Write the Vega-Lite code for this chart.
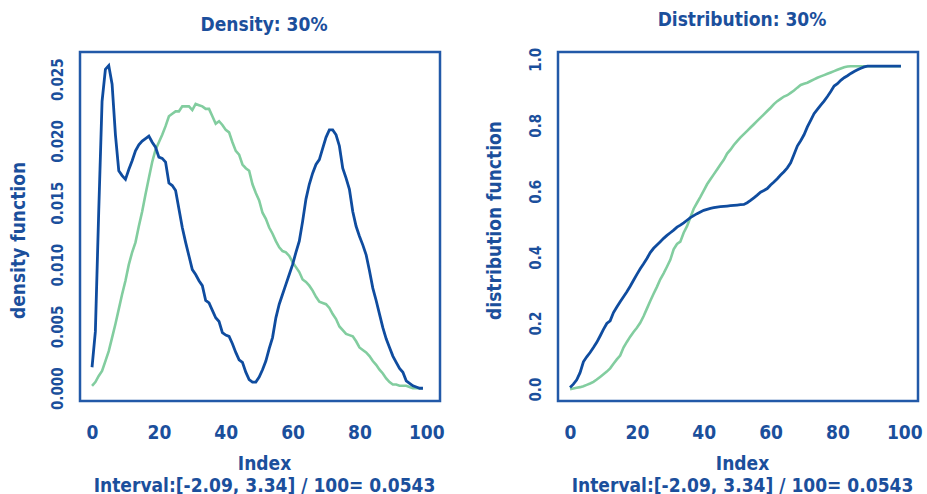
{
  "$schema": "https://vega.github.io/schema/vega-lite/v6.json",
  "autosize": {"type": "none"},
  "padding": {"left": 80, "top": 52, "right": 847, "bottom": 442},
  "background": "white",
  "datasets": {
    "d": [
      {"index":0,"db":0.0017,"dg":0.0002,"cb":0.005,"cg":0.000},
      {"index":1,"db":0.0046,"dg":0.0005,"cb":0.015,"cg":0.002},
      {"index":2,"db":0.0143,"dg":0.0010,"cb":0.028,"cg":0.004},
      {"index":3,"db":0.0232,"dg":0.0014,"cb":0.050,"cg":0.006},
      {"index":4,"db":0.0258,"dg":0.0022,"cb":0.083,"cg":0.009},
      {"index":5,"db":0.0261,"dg":0.0030,"cb":0.098,"cg":0.013},
      {"index":6,"db":0.0246,"dg":0.0041,"cb":0.111,"cg":0.017},
      {"index":7,"db":0.0205,"dg":0.0052,"cb":0.126,"cg":0.022},
      {"index":8,"db":0.0176,"dg":0.0064,"cb":0.142,"cg":0.029},
      {"index":9,"db":0.0172,"dg":0.0076,"cb":0.161,"cg":0.037},
      {"index":10,"db":0.0169,"dg":0.0087,"cb":0.181,"cg":0.045},
      {"index":11,"db":0.0177,"dg":0.0100,"cb":0.199,"cg":0.053},
      {"index":12,"db":0.0184,"dg":0.0110,"cb":0.207,"cg":0.063},
      {"index":13,"db":0.0192,"dg":0.0118,"cb":0.232,"cg":0.077},
      {"index":14,"db":0.0197,"dg":0.0131,"cb":0.249,"cg":0.090},
      {"index":15,"db":0.0200,"dg":0.0143,"cb":0.265,"cg":0.102},
      {"index":16,"db":0.0202,"dg":0.0157,"cb":0.280,"cg":0.126},
      {"index":17,"db":0.0204,"dg":0.0170,"cb":0.295,"cg":0.143},
      {"index":18,"db":0.0199,"dg":0.0183,"cb":0.312,"cg":0.159},
      {"index":19,"db":0.0195,"dg":0.0193,"cb":0.330,"cg":0.173},
      {"index":20,"db":0.0187,"dg":0.0199,"cb":0.348,"cg":0.186},
      {"index":21,"db":0.0186,"dg":0.0205,"cb":0.365,"cg":0.201},
      {"index":22,"db":0.0183,"dg":0.0212,"cb":0.380,"cg":0.221},
      {"index":23,"db":0.0166,"dg":0.0220,"cb":0.396,"cg":0.244},
      {"index":24,"db":0.0164,"dg":0.0222,"cb":0.414,"cg":0.267},
      {"index":25,"db":0.0160,"dg":0.0224,"cb":0.427,"cg":0.289},
      {"index":26,"db":0.0145,"dg":0.0224,"cb":0.437,"cg":0.310},
      {"index":27,"db":0.0130,"dg":0.0228,"cb":0.447,"cg":0.333},
      {"index":28,"db":0.0118,"dg":0.0228,"cb":0.457,"cg":0.351},
      {"index":29,"db":0.0107,"dg":0.0228,"cb":0.466,"cg":0.371},
      {"index":30,"db":0.0096,"dg":0.0225,"cb":0.474,"cg":0.392},
      {"index":31,"db":0.0092,"dg":0.0230,"cb":0.482,"cg":0.424},
      {"index":32,"db":0.0087,"dg":0.0229,"cb":0.491,"cg":0.440},
      {"index":33,"db":0.0083,"dg":0.0228,"cb":0.497,"cg":0.447},
      {"index":34,"db":0.0071,"dg":0.0226,"cb":0.504,"cg":0.474},
      {"index":35,"db":0.0069,"dg":0.0226,"cb":0.512,"cg":0.494},
      {"index":36,"db":0.0063,"dg":0.0220,"cb":0.520,"cg":0.520},
      {"index":37,"db":0.0057,"dg":0.0214,"cb":0.526,"cg":0.547},
      {"index":38,"db":0.0054,"dg":0.0216,"cb":0.532,"cg":0.565},
      {"index":39,"db":0.0045,"dg":0.0213,"cb":0.537,"cg":0.583},
      {"index":40,"db":0.0043,"dg":0.0209,"cb":0.542,"cg":0.602},
      {"index":41,"db":0.0042,"dg":0.0207,"cb":0.545,"cg":0.621},
      {"index":42,"db":0.0036,"dg":0.0199,"cb":0.548,"cg":0.636},
      {"index":43,"db":0.0029,"dg":0.0192,"cb":0.550,"cg":0.651},
      {"index":44,"db":0.0023,"dg":0.0189,"cb":0.552,"cg":0.666},
      {"index":45,"db":0.0021,"dg":0.0181,"cb":0.553,"cg":0.681},
      {"index":46,"db":0.0013,"dg":0.0178,"cb":0.554,"cg":0.695},
      {"index":47,"db":0.0007,"dg":0.0176,"cb":0.555,"cg":0.714},
      {"index":48,"db":0.0005,"dg":0.0165,"cb":0.556,"cg":0.726},
      {"index":49,"db":0.0005,"dg":0.0158,"cb":0.557,"cg":0.740},
      {"index":50,"db":0.0009,"dg":0.0152,"cb":0.558,"cg":0.752},
      {"index":51,"db":0.0015,"dg":0.0142,"cb":0.559,"cg":0.763},
      {"index":52,"db":0.0022,"dg":0.0137,"cb":0.560,"cg":0.773},
      {"index":53,"db":0.0032,"dg":0.0130,"cb":0.565,"cg":0.783},
      {"index":54,"db":0.0041,"dg":0.0125,"cb":0.572,"cg":0.793},
      {"index":55,"db":0.0057,"dg":0.0119,"cb":0.580,"cg":0.803},
      {"index":56,"db":0.0068,"dg":0.0114,"cb":0.588,"cg":0.813},
      {"index":57,"db":0.0076,"dg":0.0111,"cb":0.597,"cg":0.823},
      {"index":58,"db":0.0084,"dg":0.0110,"cb":0.602,"cg":0.833},
      {"index":59,"db":0.0092,"dg":0.0107,"cb":0.608,"cg":0.843},
      {"index":60,"db":0.0100,"dg":0.0102,"cb":0.619,"cg":0.853},
      {"index":61,"db":0.0110,"dg":0.0098,"cb":0.628,"cg":0.864},
      {"index":62,"db":0.0119,"dg":0.0094,"cb":0.638,"cg":0.873},
      {"index":63,"db":0.0135,"dg":0.0088,"cb":0.649,"cg":0.880},
      {"index":64,"db":0.0153,"dg":0.0086,"cb":0.659,"cg":0.887},
      {"index":65,"db":0.0165,"dg":0.0083,"cb":0.671,"cg":0.891},
      {"index":66,"db":0.0174,"dg":0.0079,"cb":0.686,"cg":0.898},
      {"index":67,"db":0.0181,"dg":0.0074,"cb":0.711,"cg":0.905},
      {"index":68,"db":0.0185,"dg":0.0070,"cb":0.737,"cg":0.914},
      {"index":69,"db":0.0194,"dg":0.0069,"cb":0.753,"cg":0.922},
      {"index":70,"db":0.0203,"dg":0.0068,"cb":0.771,"cg":0.926},
      {"index":71,"db":0.0209,"dg":0.0065,"cb":0.795,"cg":0.929},
      {"index":72,"db":0.0209,"dg":0.0060,"cb":0.815,"cg":0.934},
      {"index":73,"db":0.0205,"dg":0.0056,"cb":0.835,"cg":0.939},
      {"index":74,"db":0.0196,"dg":0.0050,"cb":0.848,"cg":0.944},
      {"index":75,"db":0.0178,"dg":0.0047,"cb":0.861,"cg":0.948},
      {"index":76,"db":0.0170,"dg":0.0044,"cb":0.873,"cg":0.952},
      {"index":77,"db":0.0161,"dg":0.0043,"cb":0.887,"cg":0.956},
      {"index":78,"db":0.0143,"dg":0.0042,"cb":0.902,"cg":0.960},
      {"index":79,"db":0.0131,"dg":0.0038,"cb":0.919,"cg":0.964},
      {"index":80,"db":0.0123,"dg":0.0033,"cb":0.926,"cg":0.968},
      {"index":81,"db":0.0116,"dg":0.0031,"cb":0.936,"cg":0.972},
      {"index":82,"db":0.0108,"dg":0.0029,"cb":0.944,"cg":0.976},
      {"index":83,"db":0.0095,"dg":0.0026,"cb":0.950,"cg":0.978},
      {"index":84,"db":0.0081,"dg":0.0022,"cb":0.957,"cg":0.979},
      {"index":85,"db":0.0071,"dg":0.0019,"cb":0.963,"cg":0.979},
      {"index":86,"db":0.0060,"dg":0.0015,"cb":0.968,"cg":0.979},
      {"index":87,"db":0.0049,"dg":0.0012,"cb":0.973,"cg":0.979},
      {"index":88,"db":0.0040,"dg":0.0008,"cb":0.977,"cg":0.979},
      {"index":89,"db":0.0033,"dg":0.0005,"cb":0.979,"cg":0.979},
      {"index":90,"db":0.0026,"dg":0.0003,"cb":0.979,"cg":0.979},
      {"index":91,"db":0.0021,"dg":0.0003,"cb":0.979,"cg":0.979},
      {"index":92,"db":0.0016,"dg":0.0002,"cb":0.979,"cg":0.979},
      {"index":93,"db":0.0013,"dg":0.0002,"cb":0.979,"cg":0.979},
      {"index":94,"db":0.0006,"dg":0.0002,"cb":0.979,"cg":0.979},
      {"index":95,"db":0.0004,"dg":0.0001,"cb":0.979,"cg":0.979},
      {"index":96,"db":0.0002,"dg":0.0000,"cb":0.979,"cg":0.979},
      {"index":97,"db":0.0001,"dg":0.0000,"cb":0.979,"cg":0.979},
      {"index":98,"db":0.0000,"dg":0.0000,"cb":0.979,"cg":0.979},
      {"index":99,"db":0.0000,"dg":0.0000,"cb":0.979,"cg":0.979}
    ]
  },
  "bounds": "flush",
  "spacing": 118,
  "hconcat": [
    {
      "width": 360,
      "height": 349,
      "data": {"name": "d"},
      "title": {"text": "Density: 30%", "dx": 4},
      "encoding": {
        "x": {
          "field": "index", "type": "quantitative",
          "scale": {"domain": [-3.6, 104.1], "nice": false, "zero": false},
          "axis": {
            "values": [0, 20, 40, 60, 80, 100],
            "title": ["Index", "Interval:[-2.09, 3.34] / 100= 0.0543"],
            "titleX": 184, "titleY": 68.5
          }
        }
      },
      "layer": [
        {
          "mark": {"type": "line", "color": "#82cd9f", "strokeWidth": 2.6},
          "encoding": {
            "y": {
              "field": "dg", "type": "quantitative",
              "scale": {"domain": [-0.00103, 0.0272], "nice": false, "zero": false},
              "axis": {
                "values": [0, 0.005, 0.01, 0.015, 0.02, 0.025],
                "format": ".3f",
                "title": "density function",
                "titleX": -62, "titleY": 188
              }
            }
          }
        },
        {
          "mark": {"type": "line", "color": "#0f4c9f", "strokeWidth": 2.8},
          "encoding": {
            "y": {"field": "db", "type": "quantitative"}
          }
        }
      ]
    },
    {
      "width": 360,
      "height": 349,
      "data": {"name": "d"},
      "title": {"text": "Distribution: 30%", "dx": 4},
      "encoding": {
        "x": {
          "field": "index", "type": "quantitative",
          "scale": {"domain": [-3.6, 104.1], "nice": false, "zero": false},
          "axis": {
            "values": [0, 20, 40, 60, 80, 100],
            "title": ["Index", "Interval:[-2.09, 3.34] / 100= 0.0543"],
            "titleX": 184, "titleY": 68.5
          }
        }
      },
      "layer": [
        {
          "mark": {"type": "line", "color": "#82cd9f", "strokeWidth": 2.6},
          "encoding": {
            "y": {
              "field": "cg", "type": "quantitative",
              "scale": {"domain": [-0.036, 1.022], "nice": false, "zero": false},
              "axis": {
                "values": [0, 0.2, 0.4, 0.6, 0.8, 1.0],
                "format": ".1f",
                "title": "distribution function",
                "titleX": -63.5, "titleY": 168
              }
            }
          }
        },
        {
          "mark": {"type": "line", "color": "#0f4c9f", "strokeWidth": 2.8},
          "encoding": {
            "y": {"field": "cb", "type": "quantitative"}
          }
        }
      ]
    }
  ],
  "config": {
    "font": "DejaVu Sans Condensed",
    "view": {"stroke": "#2259a8", "strokeWidth": 2.5},
    "title": {
      "font": "DejaVu Sans Condensed", "fontSize": 19, "fontWeight": "bold",
      "color": "#1b4f9c", "anchor": "middle", "frame": "group",
      "baseline": "alphabetic", "offset": 17
    },
    "axis": {
      "domain": false, "ticks": false, "tickSize": 0, "grid": false,
      "labelFont": "DejaVu Sans Condensed", "labelFontWeight": "bold", "labelColor": "#1b4f9c",
      "labelFlush": false, "labelOverlap": false,
      "titleFont": "DejaVu Sans Condensed", "titleFontWeight": "bold", "titleColor": "#1b4f9c",
      "titleFontSize": 19, "titleAlign": "center"
    },
    "axisX": {
      "labelFontSize": 19, "labelBaseline": "alphabetic", "labelPadding": 37,
      "titleBaseline": "alphabetic", "titleLineHeight": 21.5, "titleAngle": 0
    },
    "axisY": {
      "labelFont": "Liberation Sans Narrow, DejaVu Sans Condensed",
      "labelFontSize": 15, "labelAngle": 270, "labelAlign": "center",
      "labelBaseline": "alphabetic", "labelPadding": 18,
      "titleAngle": 270, "titleBaseline": "middle", "titleFontSize": 19
    }
  }
}
